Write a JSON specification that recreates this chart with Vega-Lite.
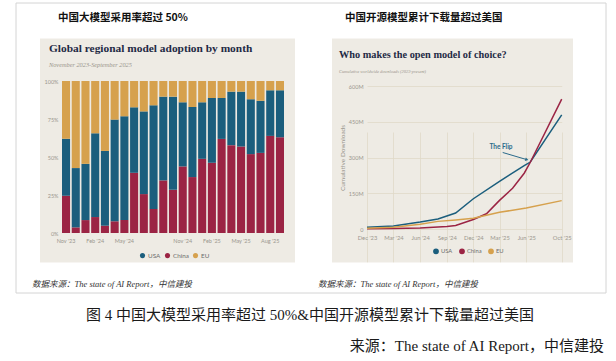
{
  "$schema": "https://vega.github.io/schema/vega-lite/v6.json",
  "width": 616,
  "height": 361,
  "autosize": {"type": "none"},
  "padding": 0,
  "background": "#eeebe4",
  "config": {
    "view": {"stroke": null},
    "axis": {"labelFont": "Lato", "titleFont": "Lato"},
    "legend": {"labelFont": "Lato"}
  },
  "datasets": {
    "adoption": [
      {"month": "Nov '23", "region": "China", "share": 0.245}, {"month": "Nov '23", "region": "USA", "share": 0.375}, {"month": "Nov '23", "region": "EU", "share": 0.38},
      {"month": "Dec '23", "region": "China", "share": 0.037}, {"month": "Dec '23", "region": "USA", "share": 0.39}, {"month": "Dec '23", "region": "EU", "share": 0.573},
      {"month": "Jan '24", "region": "China", "share": 0.085}, {"month": "Jan '24", "region": "USA", "share": 0.37}, {"month": "Jan '24", "region": "EU", "share": 0.545},
      {"month": "Feb '24", "region": "China", "share": 0.105}, {"month": "Feb '24", "region": "USA", "share": 0.551}, {"month": "Feb '24", "region": "EU", "share": 0.344},
      {"month": "Mar '24", "region": "China", "share": 0.048}, {"month": "Mar '24", "region": "USA", "share": 0.492}, {"month": "Mar '24", "region": "EU", "share": 0.46},
      {"month": "Apr '24", "region": "China", "share": 0.077}, {"month": "Apr '24", "region": "USA", "share": 0.669}, {"month": "Apr '24", "region": "EU", "share": 0.254},
      {"month": "May '24", "region": "China", "share": 0.085}, {"month": "May '24", "region": "USA", "share": 0.683}, {"month": "May '24", "region": "EU", "share": 0.232},
      {"month": "Jun '24", "region": "China", "share": 0.396}, {"month": "Jun '24", "region": "USA", "share": 0.431}, {"month": "Jun '24", "region": "EU", "share": 0.173},
      {"month": "Jul '24", "region": "China", "share": 0.256}, {"month": "Jul '24", "region": "USA", "share": 0.544}, {"month": "Jul '24", "region": "EU", "share": 0.2},
      {"month": "Aug '24", "region": "China", "share": 0.158}, {"month": "Aug '24", "region": "USA", "share": 0.682}, {"month": "Aug '24", "region": "EU", "share": 0.16},
      {"month": "Sep '24", "region": "China", "share": 0.346}, {"month": "Sep '24", "region": "USA", "share": 0.551}, {"month": "Sep '24", "region": "EU", "share": 0.103},
      {"month": "Oct '24", "region": "China", "share": 0.284}, {"month": "Oct '24", "region": "USA", "share": 0.613}, {"month": "Oct '24", "region": "EU", "share": 0.103},
      {"month": "Nov '24", "region": "China", "share": 0.438}, {"month": "Nov '24", "region": "USA", "share": 0.422}, {"month": "Nov '24", "region": "EU", "share": 0.14},
      {"month": "Dec '24", "region": "China", "share": 0.368}, {"month": "Dec '24", "region": "USA", "share": 0.461}, {"month": "Dec '24", "region": "EU", "share": 0.171},
      {"month": "Jan '25", "region": "China", "share": 0.488}, {"month": "Jan '25", "region": "USA", "share": 0.372}, {"month": "Jan '25", "region": "EU", "share": 0.14},
      {"month": "Feb '25", "region": "China", "share": 0.462}, {"month": "Feb '25", "region": "USA", "share": 0.426}, {"month": "Feb '25", "region": "EU", "share": 0.112},
      {"month": "Mar '25", "region": "China", "share": 0.619}, {"month": "Mar '25", "region": "USA", "share": 0.269}, {"month": "Mar '25", "region": "EU", "share": 0.112},
      {"month": "Apr '25", "region": "China", "share": 0.578}, {"month": "Apr '25", "region": "USA", "share": 0.352}, {"month": "Apr '25", "region": "EU", "share": 0.07},
      {"month": "May '25", "region": "China", "share": 0.569}, {"month": "May '25", "region": "USA", "share": 0.361}, {"month": "May '25", "region": "EU", "share": 0.07},
      {"month": "Jun '25", "region": "China", "share": 0.519}, {"month": "Jun '25", "region": "USA", "share": 0.361}, {"month": "Jun '25", "region": "EU", "share": 0.12},
      {"month": "Jul '25", "region": "China", "share": 0.527}, {"month": "Jul '25", "region": "USA", "share": 0.343}, {"month": "Jul '25", "region": "EU", "share": 0.13},
      {"month": "Aug '25", "region": "China", "share": 0.639}, {"month": "Aug '25", "region": "USA", "share": 0.3}, {"month": "Aug '25", "region": "EU", "share": 0.061},
      {"month": "Sep '25", "region": "China", "share": 0.63}, {"month": "Sep '25", "region": "USA", "share": 0.309}, {"month": "Sep '25", "region": "EU", "share": 0.061}
    ],
    "regions": [
      {"region": "China", "stackOrder": 0},
      {"region": "USA", "stackOrder": 1},
      {"region": "EU", "stackOrder": 2}
    ],
    "downloads": [
      {"date": "2023-12-01", "region": "USA", "downloads": 7},
      {"date": "2024-03-01", "region": "USA", "downloads": 13},
      {"date": "2024-06-01", "region": "USA", "downloads": 29},
      {"date": "2024-08-01", "region": "USA", "downloads": 42},
      {"date": "2024-10-01", "region": "USA", "downloads": 67},
      {"date": "2024-12-01", "region": "USA", "downloads": 127},
      {"date": "2025-03-01", "region": "USA", "downloads": 200},
      {"date": "2025-05-25", "region": "USA", "downloads": 266},
      {"date": "2025-06-15", "region": "USA", "downloads": 281},
      {"date": "2025-10-01", "region": "USA", "downloads": 479},
      {"date": "2023-12-01", "region": "China", "downloads": 1},
      {"date": "2024-03-01", "region": "China", "downloads": 2},
      {"date": "2024-06-01", "region": "China", "downloads": 4},
      {"date": "2024-09-01", "region": "China", "downloads": 11},
      {"date": "2024-10-01", "region": "China", "downloads": 15},
      {"date": "2024-12-01", "region": "China", "downloads": 40},
      {"date": "2025-01-15", "region": "China", "downloads": 64},
      {"date": "2025-03-01", "region": "China", "downloads": 120},
      {"date": "2025-04-15", "region": "China", "downloads": 171},
      {"date": "2025-05-25", "region": "China", "downloads": 234},
      {"date": "2025-06-15", "region": "China", "downloads": 280},
      {"date": "2025-10-01", "region": "China", "downloads": 545},
      {"date": "2023-12-01", "region": "EU", "downloads": 3},
      {"date": "2024-03-01", "region": "EU", "downloads": 7},
      {"date": "2024-06-01", "region": "EU", "downloads": 20},
      {"date": "2024-08-01", "region": "EU", "downloads": 32},
      {"date": "2024-10-01", "region": "EU", "downloads": 38},
      {"date": "2024-12-01", "region": "EU", "downloads": 45},
      {"date": "2025-03-01", "region": "EU", "downloads": 70},
      {"date": "2025-06-01", "region": "EU", "downloads": 88},
      {"date": "2025-10-01", "region": "EU", "downloads": 119}
    ]
  },
  "layer": [
    {"data": {"values": [{}]}, "mark": {"type": "rect", "x": 0, "y": 0, "x2": 616, "y2": 38.5, "fill": "#ffffff"}, "encoding": {}},
    {"data": {"values": [{}]}, "mark": {"type": "rect", "x": 0, "y": 262.5, "x2": 616, "y2": 361, "fill": "#ffffff"}, "encoding": {}},
    {"data": {"values": [{}]}, "mark": {"type": "rect", "x": 0, "y": 38, "x2": 40, "y2": 263, "fill": "#ffffff"}, "encoding": {}},
    {"data": {"values": [{}]}, "mark": {"type": "rect", "x": 295, "y": 38, "x2": 332, "y2": 263, "fill": "#ffffff"}, "encoding": {}},
    {"data": {"values": [{}]}, "mark": {"type": "rect", "x": 573, "y": 38, "x2": 616, "y2": 263, "fill": "#ffffff"}, "encoding": {}},
    {"data": {"values": [{}]}, "mark": {"type": "rect", "x": 16, "y": 3, "x2": 606, "y2": 293, "fillOpacity": 0, "stroke": "#d4d4d4", "strokeWidth": 1}, "encoding": {}},
    {"data": {"values": [{}]}, "mark": {"type": "rule", "x": 25, "y": 30, "x2": 595, "y2": 30, "stroke": "#1f4f7e", "strokeWidth": 2}, "encoding": {}},
    {"data": {"values": [{}]}, "mark": {"type": "rule", "x": 25, "y": 272, "x2": 595, "y2": 272, "stroke": "#5b84b1", "strokeWidth": 1.5}, "encoding": {}},
    {"data": {"values": [{}]}, "mark": {"type": "text", "x": 58, "y": 18, "text": "中国大模型采用率超过 50%", "align": "left", "baseline": "middle", "font": "Noto Sans CJK SC", "fontWeight": "bold", "fontSize": 10.5, "color": "#111111"}, "encoding": {}},
    {"data": {"values": [{}]}, "mark": {"type": "text", "x": 345, "y": 18, "text": "中国开源模型累计下载量超过美国", "align": "left", "baseline": "middle", "font": "Noto Sans CJK SC", "fontWeight": "bold", "fontSize": 10.5, "color": "#111111"}, "encoding": {}},
    {"data": {"values": [{}]}, "mark": {"type": "text", "x": 49, "y": 49, "text": "Global regional model adoption by month", "align": "left", "baseline": "middle", "font": "Liberation Serif", "fontWeight": "bold", "fontSize": 11.4, "color": "#1f2a44"}, "encoding": {}},
    {"data": {"values": [{}]}, "mark": {"type": "text", "x": 49, "y": 65, "text": "November 2023-September 2025", "align": "left", "baseline": "middle", "font": "Liberation Serif", "fontStyle": "italic", "fontSize": 6.3, "color": "#9a958c"}, "encoding": {}},
    {"data": {"values": [{}]}, "mark": {"type": "text", "x": 339, "y": 55, "text": "Who makes the open model of choice?", "align": "left", "baseline": "middle", "font": "Liberation Serif", "fontWeight": "bold", "fontSize": 10.3, "color": "#1f2a44"}, "encoding": {}},
    {"data": {"values": [{}]}, "mark": {"type": "text", "x": 339, "y": 72, "text": "Cumulative worldwide downloads (2023-present)", "align": "left", "baseline": "middle", "font": "Liberation Serif", "fontStyle": "italic", "fontSize": 4.4, "color": "#9a958c"}, "encoding": {}},
    {"data": {"values": [{}]}, "mark": {"type": "text", "x": 32, "y": 284, "text": "数据来源：The state of AI Report，中信建投", "align": "left", "baseline": "middle", "font": "Liberation Serif, Noto Sans CJK SC", "fontStyle": "italic", "fontSize": 8.5, "color": "#333333"}, "encoding": {}},
    {"data": {"values": [{}]}, "mark": {"type": "text", "x": 318, "y": 284, "text": "数据来源：The state of AI Report，中信建投", "align": "left", "baseline": "middle", "font": "Liberation Serif, Noto Sans CJK SC", "fontStyle": "italic", "fontSize": 8.5, "color": "#333333"}, "encoding": {}},
    {"data": {"values": [{}]}, "mark": {"type": "text", "x": 310, "y": 315, "text": "图 4 中国大模型采用率超过 50%&中国开源模型累计下载量超过美国", "align": "center", "baseline": "middle", "font": "Liberation Serif, Noto Sans CJK SC", "fontSize": 15, "color": "#1a1a1a"}, "encoding": {}},
    {"data": {"values": [{}]}, "mark": {"type": "text", "x": 604, "y": 346, "text": "来源：The state of AI Report，中信建投", "align": "right", "baseline": "middle", "font": "Liberation Serif, Noto Sans CJK SC", "fontSize": 15, "color": "#1a1a1a"}, "encoding": {}},
    {
      "data": {"name": "adoption"},
      "transform": [
        {"lookup": "region", "from": {"data": {"name": "regions"}, "key": "region", "fields": ["stackOrder"]}}
      ],
      "mark": {"type": "bar"},
      "encoding": {
        "x": {
          "field": "month", "type": "nominal", "sort": null,
          "scale": {"range": [62, 284], "paddingInner": 0.17, "paddingOuter": 0},
          "axis": {"orient": "bottom", "offset": -128, "values": ["Nov '23", "Feb '24", "May '24", "Nov '24", "Feb '25", "May '25", "Aug '25"], "labelAngle": 0, "labelFontSize": 5.5, "labelColor": "#9b978e", "labelPadding": 5, "domain": false, "ticks": false, "grid": false, "title": null}
        },
        "y": {
          "field": "share", "type": "quantitative", "stack": "zero",
          "scale": {"domain": [0, 1], "range": [233, 81], "nice": false},
          "axis": {"orient": "left", "offset": -61, "values": [0, 0.25, 0.5, 0.75, 1], "format": ".0%", "labelFontSize": 5.5, "labelColor": "#9b978e", "labelPadding": 3, "domain": false, "ticks": false, "grid": false, "title": null}
        },
        "order": {"field": "stackOrder", "type": "quantitative", "sort": "ascending"},
        "color": {
          "field": "region", "type": "nominal",
          "scale": {"domain": ["USA", "China", "EU"], "range": ["#1b5e7d", "#9b2444", "#d6a14d"]},
          "legend": {"orient": "none", "legendX": 139, "legendY": 252, "direction": "horizontal", "title": null, "symbolType": "circle", "symbolSize": 26, "labelFontSize": 6.3, "labelColor": "#6b6b6b", "labelOffset": 2, "columnPadding": 3}
        }
      }
    },
    {
      "layer": [
        {
          "data": {"name": "downloads"},
          "mark": {"type": "line", "strokeWidth": 1.5},
          "encoding": {
            "x": {
              "field": "date", "type": "temporal",
              "scale": {"type": "utc", "domain": [{"year": 2023, "month": 12, "date": 1, "utc": true}, {"year": 2025, "month": 10, "date": 1, "utc": true}], "range": [367, 561.7], "nice": false},
              "axis": {"orient": "bottom", "offset": -132, "values": [{"year": 2023, "month": 12, "date": 1, "utc": true}, {"year": 2024, "month": 3, "date": 1, "utc": true}, {"year": 2024, "month": 6, "date": 1, "utc": true}, {"year": 2024, "month": 9, "date": 1, "utc": true}, {"year": 2024, "month": 12, "date": 1, "utc": true}, {"year": 2025, "month": 3, "date": 1, "utc": true}, {"year": 2025, "month": 6, "date": 1, "utc": true}, {"year": 2025, "month": 10, "date": 1, "utc": true}], "labelExpr": "utcFormat(datum.value, \"%b '%y\")", "labelOverlap": false, "labelFlush": false, "labelFontSize": 5.8, "labelColor": "#9b978e", "labelPadding": 5, "domain": false, "ticks": false, "grid": true, "gridColor": "#e0d9c8", "gridWidth": 0.8, "title": null}
            },
            "y": {
              "field": "downloads", "type": "quantitative",
              "scale": {"domain": [0, 600], "range": [229, 86], "nice": false},
              "axis": {"orient": "left", "offset": -367, "values": [0, 150, 300, 450, 600], "labelExpr": "datum.value == 0 ? '0' : datum.value + 'M'", "labelFontSize": 5.5, "labelColor": "#9b978e", "labelPadding": 4, "domain": false, "ticks": false, "grid": true, "gridColor": "#e0d9c8", "gridWidth": 0.8, "title": "Cumulative Downloads", "titleFontSize": 6.5, "titleFontWeight": "normal", "titleColor": "#9b978e", "titlePadding": 3}
            },
            "color": {
              "field": "region", "type": "nominal",
              "scale": {"domain": ["USA", "China", "EU"], "range": ["#1b5e7d", "#9b2444", "#d6a14d"]},
              "legend": {"orient": "none", "legendX": 433, "legendY": 248, "direction": "horizontal", "title": null, "symbolType": "circle", "symbolSize": 8, "symbolStrokeWidth": 3, "labelFontSize": 5.8, "labelColor": "#6b6b6b", "labelOffset": 2, "columnPadding": 1}
            }
          }
        },
        {
          "data": {"values": [{"date": "2025-03-06", "downloads": 343, "label": "The Flip"}]},
          "mark": {"type": "text", "font": "Lato", "fontWeight": "bold", "fontSize": 6.5, "color": "#2a6a8a", "align": "center", "baseline": "middle"},
          "encoding": {
            "x": {"field": "date", "type": "temporal"},
            "y": {"field": "downloads", "type": "quantitative"},
            "text": {"field": "label"}
          }
        },
        {
          "data": {"values": [{"date": "2025-03-12", "downloads": 321, "date_end": "2025-06-03", "downloads_end": 291}]},
          "mark": {"type": "rule", "color": "#2a6a8a", "strokeWidth": 1},
          "encoding": {
            "x": {"field": "date", "type": "temporal"},
            "y": {"field": "downloads", "type": "quantitative"},
            "x2": {"field": "date_end"},
            "y2": {"field": "downloads_end"}
          }
        },
        {
          "data": {"values": [{"date": "2025-06-03", "downloads": 291}]},
          "mark": {"type": "point", "shape": "triangle-right", "angle": 17, "size": 14, "filled": true, "color": "#2a6a8a", "opacity": 1},
          "encoding": {
            "x": {"field": "date", "type": "temporal"},
            "y": {"field": "downloads", "type": "quantitative"}
          }
        }
      ]
    }
  ],
  "resolve": {
    "scale": {"x": "independent", "y": "independent", "color": "independent"},
    "axis": {"x": "independent", "y": "independent"},
    "legend": {"color": "independent"}
  }
}
